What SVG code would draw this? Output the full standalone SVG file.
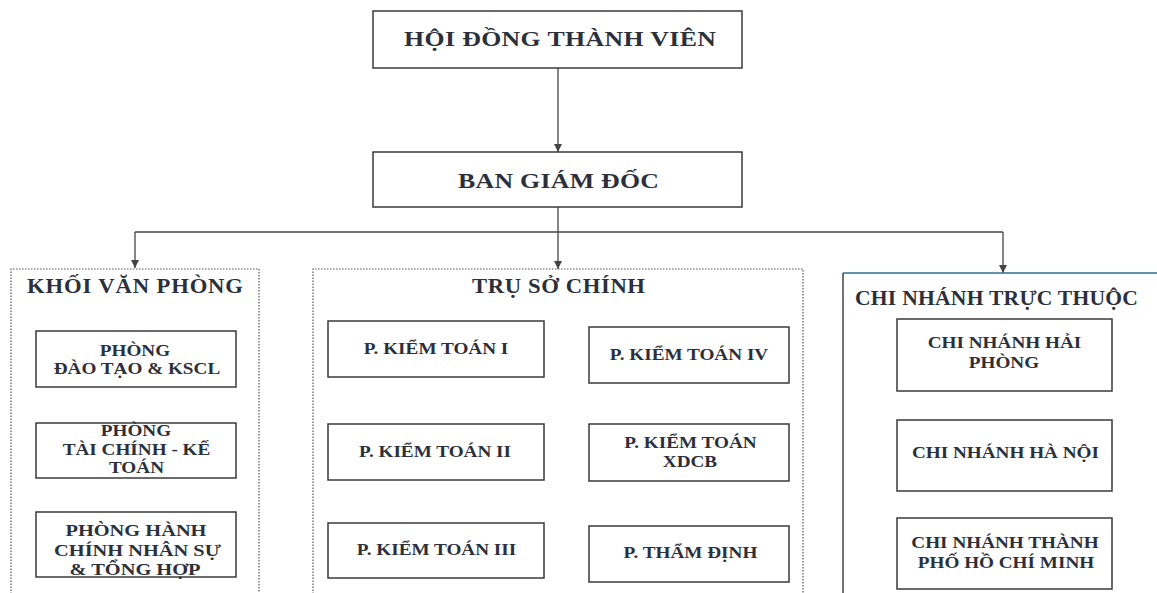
<svg xmlns="http://www.w3.org/2000/svg" width="1157" height="593" viewBox="0 0 1157 593">
<style>
  .box { fill: #ffffff; stroke: #3a3a3a; stroke-width: 1.5; }
  .group { fill: none; stroke: #555; stroke-width: 1.2; stroke-dasharray: 1.5 1.5; }
  .conn { fill: none; stroke: #444; stroke-width: 1.3; }
  text { font-family: "Liberation Serif", "Times New Roman", serif; font-weight: bold; fill: #2b303b; text-anchor: middle; transform-box: fill-box; transform-origin: center; }
  .t1 { font-size: 21.5px; transform: scaleX(1.2); }
  .t2 { font-size: 21px; transform: scaleX(1.08); }
  .t2b { font-size: 20px; transform: scaleX(1.08); }
  .t3 { font-size: 16px; transform: scaleX(1.2); }
  .t3b { font-size: 17px; transform: scaleX(1.2); }
</style>
<defs>
  <marker id="arr" viewBox="0 0 10 10" refX="10" refY="5" markerWidth="8" markerHeight="8" markerUnits="userSpaceOnUse" orient="auto">
    <path d="M0,0 L10,5 L0,10 z" fill="#444"/>
  </marker>
</defs>
<rect width="1157" height="593" fill="#ffffff"/>

<g id="connectors">
  <line class="conn" x1="558" y1="68" x2="558" y2="152" marker-end="url(#arr)"/>
  <line class="conn" x1="558" y1="207" x2="558" y2="232"/>
  <line class="conn" x1="135" y1="232" x2="1003" y2="232"/>
  <line class="conn" x1="135" y1="232" x2="135" y2="268" marker-end="url(#arr)"/>
  <line class="conn" x1="558" y1="232" x2="558" y2="269" marker-end="url(#arr)"/>
  <line class="conn" x1="1003" y1="232" x2="1003" y2="273" marker-end="url(#arr)"/>
</g>

<g id="hoi-dong-thanh-vien">
  <rect class="box" x="373" y="11" width="369" height="57"/>
  <text class="t1" x="560" y="46" textLength="260" lengthAdjust="spacing">HỘI ĐỒNG THÀNH VIÊN</text>
</g>

<g id="ban-giam-doc">
  <rect class="box" x="373" y="152" width="369" height="55"/>
  <text class="t1" x="558.5" y="188" textLength="167.5" lengthAdjust="spacing">BAN GIÁM ĐỐC</text>
</g>

<g id="khoi-van-phong">
  <path class="group" d="M11,600 V269 H259 V600"/>
  <text class="t2" x="135" y="293" textLength="200" lengthAdjust="spacing">KHỐI VĂN PHÒNG</text>
</g>
<g id="phong-dao-tao">
  <rect class="box" x="36" y="331" width="200" height="56"/>
  <text class="t3" x="135" y="356">PHÒNG</text>
  <text class="t3" x="137" y="374">ĐÀO TẠO &amp; KSCL</text>
</g>
<g id="phong-tai-chinh">
  <rect class="box" x="36" y="423" width="200" height="55"/>
  <text class="t3" x="136" y="436">PHÒNG</text>
  <text class="t3" x="136.5" y="455">TÀI CHÍNH - KẾ</text>
  <text class="t3" x="136.5" y="473">TOÁN</text>
</g>
<g id="phong-hanh-chinh">
  <rect class="box" x="36" y="512" width="200" height="65"/>
  <text class="t3b" x="136" y="536">PHÒNG HÀNH</text>
  <text class="t3b" x="137.5" y="556">CHÍNH NHÂN SỰ</text>
  <text class="t3b" x="135" y="575">&amp; TỔNG HỢP</text>
</g>

<g id="tru-so-chinh">
  <path class="group" d="M313,600 V269 H803 V600"/>
  <text class="t2" x="558.5" y="293" textLength="160.2" lengthAdjust="spacing">TRỤ SỞ CHÍNH</text>
</g>
<g id="kiem-toan-1">
  <rect class="box" x="328" y="321" width="216" height="56"/>
  <text class="t3" x="436" y="354">P. KIỂM TOÁN I</text>
</g>
<g id="kiem-toan-2">
  <rect class="box" x="328" y="424" width="216" height="56"/>
  <text class="t3" x="435" y="457">P. KIỂM TOÁN II</text>
</g>
<g id="kiem-toan-3">
  <rect class="box" x="328" y="523" width="216" height="55"/>
  <text class="t3" x="436.5" y="555">P. KIỂM TOÁN III</text>
</g>
<g id="kiem-toan-4">
  <rect class="box" x="589" y="327" width="200" height="56"/>
  <text class="t3" x="689" y="360">P. KIỂM TOÁN IV</text>
</g>
<g id="kiem-toan-xdcb">
  <rect class="box" x="589" y="424" width="200" height="57"/>
  <text class="t3" x="690.5" y="448">P. KIỂM TOÁN</text>
  <text class="t3" x="690" y="467">XDCB</text>
</g>
<g id="tham-dinh">
  <rect class="box" x="589" y="526" width="200" height="56"/>
  <text class="t3" x="690.5" y="558">P. THẨM ĐỊNH</text>
</g>

<g id="chi-nhanh-truc-thuoc">
  <line x1="843" y1="273" x2="1160" y2="273" stroke="#2f6f8f" stroke-width="1.5"/>
  <line x1="843" y1="273" x2="843" y2="600" stroke="#444" stroke-width="1.5"/>
  <text class="t2b" x="996.5" y="305" textLength="262" lengthAdjust="spacing">CHI NHÁNH TRỰC THUỘC</text>
</g>
<g id="chi-nhanh-hai-phong">
  <rect class="box" x="897" y="319" width="215" height="72"/>
  <text class="t3" x="1004.5" y="348">CHI NHÁNH HẢI</text>
  <text class="t3" x="1004" y="368">PHÒNG</text>
</g>
<g id="chi-nhanh-ha-noi">
  <rect class="box" x="897" y="420" width="215" height="71"/>
  <text class="t3" x="1005.5" y="458">CHI NHÁNH HÀ NỘI</text>
</g>
<g id="chi-nhanh-hcm">
  <rect class="box" x="897" y="518" width="215" height="71"/>
  <text class="t3" x="1005" y="548">CHI NHÁNH THÀNH</text>
  <text class="t3" x="1006" y="568">PHỐ HỒ CHÍ MINH</text>
</g>
</svg>
